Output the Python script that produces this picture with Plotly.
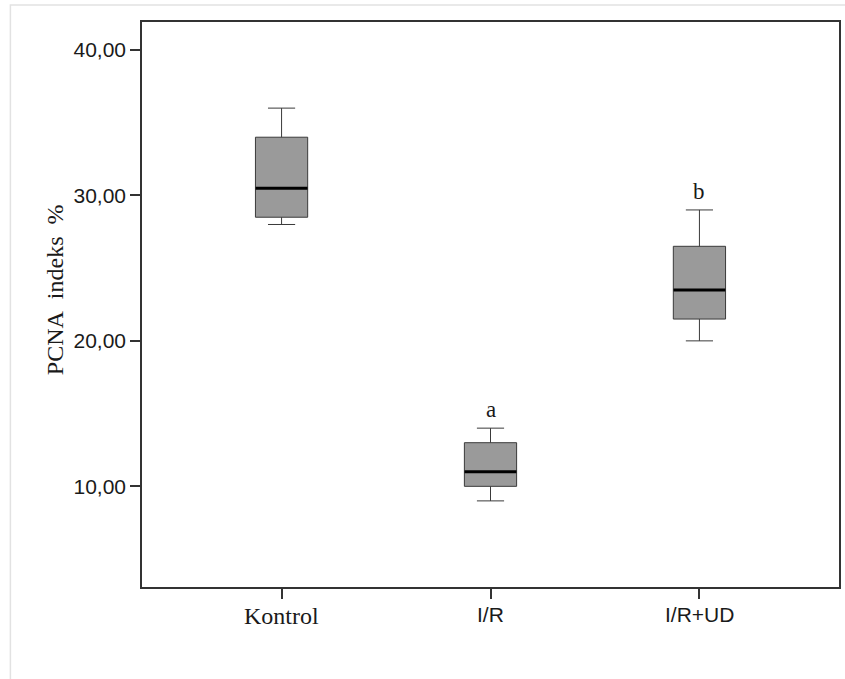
import plotly.graph_objects as go

# ---- data ----
groups = ["Kontrol", "I/R", "I/R+UD"]
lower_whisker = [28.0, 9.0, 20.0]
q1_vals = [28.5, 10.0, 21.5]
median_vals = [30.5, 11.0, 23.5]
q3_vals = [34.0, 13.0, 26.5]
upper_whisker = [36.0, 14.0, 29.0]
sig_labels = ["", "a", "b"]
y_tick_vals = [10, 20, 30, 40]
y_tick_text = ["10,00", "20,00", "30,00", "40,00"]

SERIF = "Liberation Serif"
SANS = "Liberation Sans"
label_fonts = [(SERIF, 24, -0.0513), (SANS, 21, -0.0478), (SANS, 21, -0.0478)]

xpos = list(range(len(groups)))
box_w = 0.25
half = 0.124

fig = go.Figure()
fig.add_trace(go.Box(
    x=xpos, q1=q1_vals, median=median_vals, q3=q3_vals,
    lowerfence=lower_whisker, upperfence=upper_whisker,
    width=box_w, whiskerwidth=0.52,
    fillcolor="#9a9a9a", line=dict(color="#3a3a3a", width=1),
    boxpoints=False, showlegend=False, hoverinfo="skip",
))

# thick median lines
mx, my = [], []
for x, m in zip(xpos, median_vals):
    mx += [x - half, x + half, None]
    my += [m, m, None]
fig.add_trace(go.Scatter(x=mx, y=my, mode="lines",
                         line=dict(color="black", width=3),
                         showlegend=False, hoverinfo="skip"))

# significance letters
for x, uw, lab in zip(xpos, upper_whisker, sig_labels):
    if lab:
        fig.add_annotation(x=x, y=uw + 1.25, text=lab, showarrow=False,
                           font=dict(family=SERIF, size=23, color="#1a1a1a"),
                           xanchor="center", yanchor="middle")

# category labels (mixed fonts as in the reference)
for x, g, (fam, sz, yy) in zip(xpos, groups, label_fonts):
    fig.add_annotation(x=x, xref="x", yref="paper", y=yy, text=g, showarrow=False,
                       font=dict(family=fam, size=sz, color="#1a1a1a"),
                       xanchor="center", yanchor="middle")

fig.update_layout(
    width=845, height=679,
    margin=dict(l=142, r=4, t=22, b=92),
    paper_bgcolor="white", plot_bgcolor="white",
    xaxis=dict(range=[-0.668, 2.668], tickvals=xpos, showticklabels=False,
               showline=True, linecolor="#333", linewidth=1.5, mirror=True,
               ticks="outside", ticklen=10, tickwidth=1.5, tickcolor="#333",
               showgrid=False, zeroline=False),
    yaxis=dict(range=[3.08, 41.92], tickvals=y_tick_vals, ticktext=y_tick_text,
               showline=True, linecolor="#333", linewidth=1.5, mirror=True,
               ticks="outside", ticklen=10, tickwidth=1.5, tickcolor="#333",
               showgrid=False, zeroline=False,
               tickfont=dict(family=SANS, size=21, color="#1a1a1a")),
)

# y-axis title
fig.add_annotation(xref="paper", yref="paper", x=-0.1245, y=0.5257,
                   text="PCNA\u00a0\u00a0indeks\u00a0\u00a0%", textangle=-90, showarrow=False,
                   font=dict(family=SERIF, size=24, color="#1a1a1a"),
                   xanchor="center", yanchor="middle")

# outer light frame
fig.add_shape(type="rect", xref="paper", yref="paper",
              x0=-0.1888, y0=-0.3, x1=1.2, y1=1.0301,
              line=dict(color="#e2e2e2", width=1.5), fillcolor="rgba(0,0,0,0)",
              layer="below")

fig.write_html("out.html", config={"displayModeBar": False},
               post_script="document.body.style.margin='0';document.body.style.overflow='hidden';")
